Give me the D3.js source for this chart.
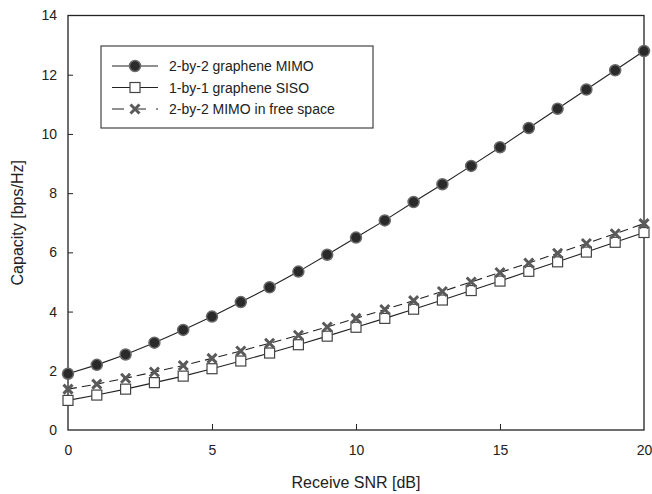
<!DOCTYPE html>
<html>
<head>
<meta charset="utf-8">
<script src="https://cdn.jsdelivr.net/npm/d3@7"></script>
<style>
  body { margin: 0; background: #fff; }
  text { font-family: "Liberation Sans", Arial, sans-serif; fill: #222; }
</style>
</head>
<body>
<div id="chart"></div>
<script>
// data
var snr = [0, 1, 2, 3, 4, 5, 6, 7, 8, 9, 10, 11, 12, 13, 14, 15, 16, 17, 18, 19, 20];
var mimoGraphene = [1.9, 2.2, 2.55, 2.95, 3.38, 3.83, 4.32, 4.82, 5.35, 5.92, 6.5, 7.08, 7.7, 8.3, 8.92, 9.55, 10.2, 10.85, 11.5, 12.15, 12.8];
var sisoGraphene = [1.0, 1.18, 1.38, 1.6, 1.82, 2.07, 2.33, 2.6, 2.88, 3.17, 3.47, 3.77, 4.08, 4.39, 4.71, 5.03, 5.36, 5.68, 6.01, 6.34, 6.67];
var mimoFree = [1.38, 1.55, 1.75, 1.96, 2.18, 2.42, 2.67, 2.93, 3.2, 3.48, 3.77, 4.07, 4.37, 4.68, 5.0, 5.32, 5.64, 5.97, 6.3, 6.63, 6.97];
var xTicks = [0, 5, 10, 15, 20];
var yTicks = [0, 2, 4, 6, 8, 10, 12, 14];
var seriesNames = ["2-by-2 graphene MIMO", "1-by-1 graphene SISO", "2-by-2 MIMO in free space"];

var W = 652, H = 494;
var margin = { top: 15.5, right: 8, bottom: 64, left: 68 };
var width = W - margin.left - margin.right,
  height = H - margin.top - margin.bottom;

var svg = d3.select("#chart").append("svg")
  .attr("width", W)
  .attr("height", H);

var g = svg.append("g")
  .attr("transform", "translate(" + margin.left + "," + margin.top + ")");

var x = d3.scaleLinear().domain([0, 20]).range([0, width]);
var y = d3.scaleLinear().domain([0, 14]).range([height, 0]);

// axes with inward ticks
var xAxis = g.append("g")
  .attr("transform", "translate(0," + height + ")")
  .call(d3.axisBottom(x).tickValues(xTicks).tickSizeInner(-6).tickSizeOuter(0).tickPadding(15));
var yAxis = g.append("g")
  .call(d3.axisLeft(y).tickValues(yTicks).tickSizeInner(-5).tickSizeOuter(0).tickPadding(11));

[xAxis, yAxis].forEach(function(a) {
  a.select(".domain").remove();
  a.selectAll("line").attr("stroke", "#222");
  a.selectAll("text").style("font-size", "14px").attr("fill", "#222");
});
// hide tick marks on the frame itself
xAxis.selectAll(".tick").filter(function(d) { return d == 0 || d == 20; }).select("line").remove();
yAxis.selectAll(".tick").filter(function(d) { return d == 0 || d == 14; }).select("line").remove();

// frame
g.append("rect")
  .attr("x", 0).attr("y", 0)
  .attr("width", width).attr("height", height)
  .attr("fill", "none")
  .attr("stroke", "#222")
  .attr("stroke-width", 1.3);

// axis titles
svg.append("text")
  .attr("x", margin.left + width / 2)
  .attr("y", 488)
  .attr("text-anchor", "middle")
  .style("font-size", "16px")
  .text("Receive SNR [dB]");
svg.append("text")
  .attr("transform", "translate(23," + (margin.top + height / 2) + ") rotate(-90)")
  .attr("text-anchor", "middle")
  .style("font-size", "16px")
  .text("Capacity [bps/Hz]");

var line = d3.line()
  .x(function(d) { return x(d[0]); })
  .y(function(d) { return y(d[1]); });

function pairs(vals) {
  return snr.map(function(s, i) { return [s, vals[i]]; });
}

// marker drawing helpers
function circleMark(sel) {
  sel.append("circle").attr("r", 5.5)
    .attr("fill", "#2a2a2a").attr("stroke", "#6a6a6a").attr("stroke-width", 1.5);
}
function squareMark(sel) {
  sel.append("rect").attr("x", -5).attr("y", -5).attr("width", 10).attr("height", 10)
    .attr("fill", "#fff").attr("stroke", "#444").attr("stroke-width", 1.2);
}
function crossMark(sel) {
  sel.append("path").attr("d", "M-4.5,-4.5L4.5,4.5M-4.5,4.5L4.5,-4.5")
    .attr("stroke", "#5a5a5a").attr("stroke-width", 3).attr("fill", "none");
}

var series = [
  { name: seriesNames[0], vals: mimoGraphene, dash: null, mark: circleMark },
  { name: seriesNames[1], vals: sisoGraphene, dash: null, mark: squareMark },
  { name: seriesNames[2], vals: mimoFree, dash: "9,5", mark: crossMark }
];

// draw order: SISO, free space, then MIMO graphene
[1, 2, 0].forEach(function(k) {
  var s = series[k];
  g.append("path")
    .datum(pairs(s.vals))
    .attr("d", line)
    .attr("fill", "none")
    .attr("stroke", "#222")
    .attr("stroke-width", 1.1)
    .attr("stroke-dasharray", s.dash);
  g.selectAll(".m" + k)
    .data(pairs(s.vals))
    .enter().append("g")
    .attr("class", "m" + k)
    .attr("transform", function(d) { return "translate(" + x(d[0]) + "," + y(d[1]) + ")"; })
    .each(function() { s.mark(d3.select(this)); });
});

// legend
var legend = svg.append("g");
legend.append("rect")
  .attr("x", 101).attr("y", 46)
  .attr("width", 272).attr("height", 82)
  .attr("fill", "#fff")
  .attr("stroke", "#444")
  .attr("stroke-width", 1.2);

series.forEach(function(s, i) {
  var ly = 66 + i * 21.5;
  var row = legend.append("g");
  row.append("line")
    .attr("x1", 112).attr("x2", 158)
    .attr("y1", ly).attr("y2", ly)
    .attr("stroke", "#222")
    .attr("stroke-width", 1.1)
    .attr("stroke-dasharray", s.dash ? "12,10" : null);
  var mg = row.append("g").attr("transform", "translate(135," + ly + ")");
  s.mark(mg);
  row.append("text")
    .attr("x", 169).attr("y", ly + 5)
    .style("font-size", "14px")
    .text(s.name);
});
</script>
</body>
</html>
